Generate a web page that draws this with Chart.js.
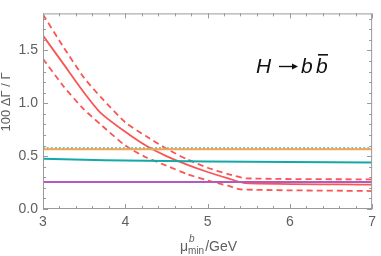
<!DOCTYPE html>
<html>
<head>
<meta charset="utf-8">
<script src="https://cdn.jsdelivr.net/npm/chart.js@4"></script>
<style>
  html, body { margin: 0; padding: 0; background: #fff; }
  #wrap { width: 381px; height: 256px; }
</style>
</head>
<body>
<div id="wrap"><canvas id="grafica"></canvas></div>
<script>
// valores
const xCentral = [3.0, 3.25, 3.5, 3.7, 4.0, 4.25, 4.5, 4.75, 5.0, 5.25, 5.45, 7.0];
const yCentral = [1.64, 1.37, 1.10, 0.91, 0.73, 0.60, 0.50, 0.42, 0.35, 0.29, 0.245, 0.23];
const xArriba = [3.0, 3.25, 3.5, 3.7, 4.0, 4.25, 4.5, 4.75, 5.0, 5.25, 5.47, 7.0];
const yArriba = [1.84, 1.53, 1.24, 1.06, 0.82, 0.69, 0.57, 0.47, 0.39, 0.33, 0.29, 0.28];
const xAbajo = [3.0, 3.25, 3.5, 3.7, 4.0, 4.25, 4.5, 4.75, 5.0, 5.25, 5.4, 7.0];
const yAbajo = [1.42, 1.16, 0.94, 0.80, 0.60, 0.49, 0.41, 0.33, 0.27, 0.22, 0.185, 0.17];
const xTeal = [3.0, 3.5, 4.0, 5.0, 6.0, 7.0];
const yTeal = [0.476, 0.465, 0.458, 0.45, 0.445, 0.44];
const xPlano = [3.0, 7.0];
const yNaranja = [0.565, 0.565];
const yPunteada = [0.575, 0.575];
const yMorada = [0.255, 0.255];

function puntos(xs, ys) {
  return xs.map((x, i) => ({ x: x, y: ys[i] }));
}

const rojo = 'rgb(250, 85, 85)';
const gris = '#9a9a9a';
const texto = '#606060';
const fuente = '"Liberation Sans", Arial, sans-serif';

const marcoPlugin = {
  id: 'marco',
  afterDraw(chart) {
    const ctx = chart.ctx;
    const a = chart.chartArea;
    const sx = chart.scales.x, sy = chart.scales.y;
    ctx.save();
    ctx.strokeStyle = gris;
    ctx.lineWidth = 1;
    ctx.strokeRect(a.left + 0.5, a.top + 0.5, a.right - a.left - 1, a.bottom - a.top - 1);
    ctx.beginPath();
    for (let i = 0; i <= 20; i++) {
      const v = 3 + i * 0.2;
      const px = Math.round(sx.getPixelForValue(v)) + 0.5;
      const len = (i % 5 === 0) ? 5 : 3;
      ctx.moveTo(px, a.bottom); ctx.lineTo(px, a.bottom - len);
      ctx.moveTo(px, a.top); ctx.lineTo(px, a.top + len);
    }
    for (let i = 0; i <= 18; i++) {
      const v = i * 0.1;
      const py = Math.round(sy.getPixelForValue(v)) + 0.5;
      const len = (i % 5 === 0) ? 5 : 3;
      ctx.moveTo(a.left, py); ctx.lineTo(a.left + len, py);
      ctx.moveTo(a.right, py); ctx.lineTo(a.right - len, py);
    }
    ctx.stroke();

    // titulo eje x
    ctx.fillStyle = texto;
    ctx.textBaseline = 'alphabetic';
    ctx.textAlign = 'left';
    let x0 = 180, yb = 251;
    ctx.font = '14px ' + fuente;
    ctx.fillText('μ', x0, yb);
    const wMu = ctx.measureText('μ').width;
    ctx.font = 'italic 10px ' + fuente;
    ctx.fillText('b', x0 + wMu + 1, yb - 9);
    ctx.font = '10px ' + fuente;
    ctx.fillText('min', x0 + wMu, yb + 3);
    const wMin = ctx.measureText('min').width;
    ctx.font = '14px ' + fuente;
    ctx.fillText('/GeV', x0 + wMu + wMin + 1, yb);

    // titulo eje y
    ctx.save();
    ctx.translate(10, 102);
    ctx.rotate(-Math.PI / 2);
    ctx.textAlign = 'center';
    ctx.font = '13px ' + fuente;
    ctx.fillText('100 ΔΓ / Γ', 0, 0);
    ctx.restore();

    // etiqueta del proceso
    ctx.fillStyle = '#111';
    ctx.strokeStyle = '#111';
    ctx.font = 'italic 21px ' + fuente;
    ctx.textAlign = 'left';
    ctx.fillText('H', 256, 73);
    ctx.lineWidth = 1.4;
    ctx.beginPath();
    ctx.moveTo(279, 66.5); ctx.lineTo(296, 66.5);
    ctx.stroke();
    ctx.beginPath();
    ctx.moveTo(298, 66.5); ctx.lineTo(292, 63.5); ctx.lineTo(292, 69.5); ctx.closePath();
    ctx.fill();
    ctx.fillText('b', 301, 73);
    ctx.fillText('b', 316, 73);
    ctx.fillRect(318, 54, 10, 1.6);
    ctx.restore();
  }
};

const ctx = document.getElementById('grafica').getContext('2d');
new Chart(ctx, {
  type: 'line',
  data: {
    datasets: [
      { data: puntos(xPlano, yNaranja), borderColor: 'rgb(245, 165, 80)', borderWidth: 2 },
      { data: puntos(xPlano, yPunteada), borderColor: 'rgb(70, 185, 190)', borderWidth: 2, borderDash: [2, 2] },
      { data: puntos(xTeal, yTeal), borderColor: 'rgb(20, 168, 168)', borderWidth: 2 },
      { data: puntos(xPlano, yMorada), borderColor: 'rgb(180, 90, 190)', borderWidth: 2 },
      { data: puntos(xCentral, yCentral), borderColor: rojo, borderWidth: 1.8 },
      { data: puntos(xArriba, yArriba), borderColor: rojo, borderWidth: 1.8, borderDash: [6, 4] },
      { data: puntos(xAbajo, yAbajo), borderColor: rojo, borderWidth: 1.8, borderDash: [6, 4] }
    ]
  },
  options: {
    responsive: true,
    maintainAspectRatio: false,
    animation: false,
    elements: { point: { radius: 0 }, line: { tension: 0.2, fill: false } },
    layout: { padding: { top: 2, right: 4, left: 0, bottom: 0 } },
    plugins: { legend: { display: false }, tooltip: { enabled: false } },
    scales: {
      x: {
        type: 'linear', min: 3, max: 7,
        grid: { display: false, drawTicks: false },
        border: { display: false },
        ticks: { stepSize: 1, includeBounds: false, padding: 5, color: texto,
                 font: { size: 14, family: fuente } },
        afterFit(s) { s.height = 47; }
      },
      y: {
        min: 0, max: 1.85,
        grid: { display: false, drawTicks: false },
        border: { display: false },
        ticks: { stepSize: 0.5, includeBounds: false, padding: 5, color: texto,
                 font: { size: 14, family: fuente },
                 callback: v => v.toFixed(1) },
        afterFit(s) { s.width = 43; }
      }
    }
  },
  plugins: [marcoPlugin]
});
</script>
</body>
</html>
